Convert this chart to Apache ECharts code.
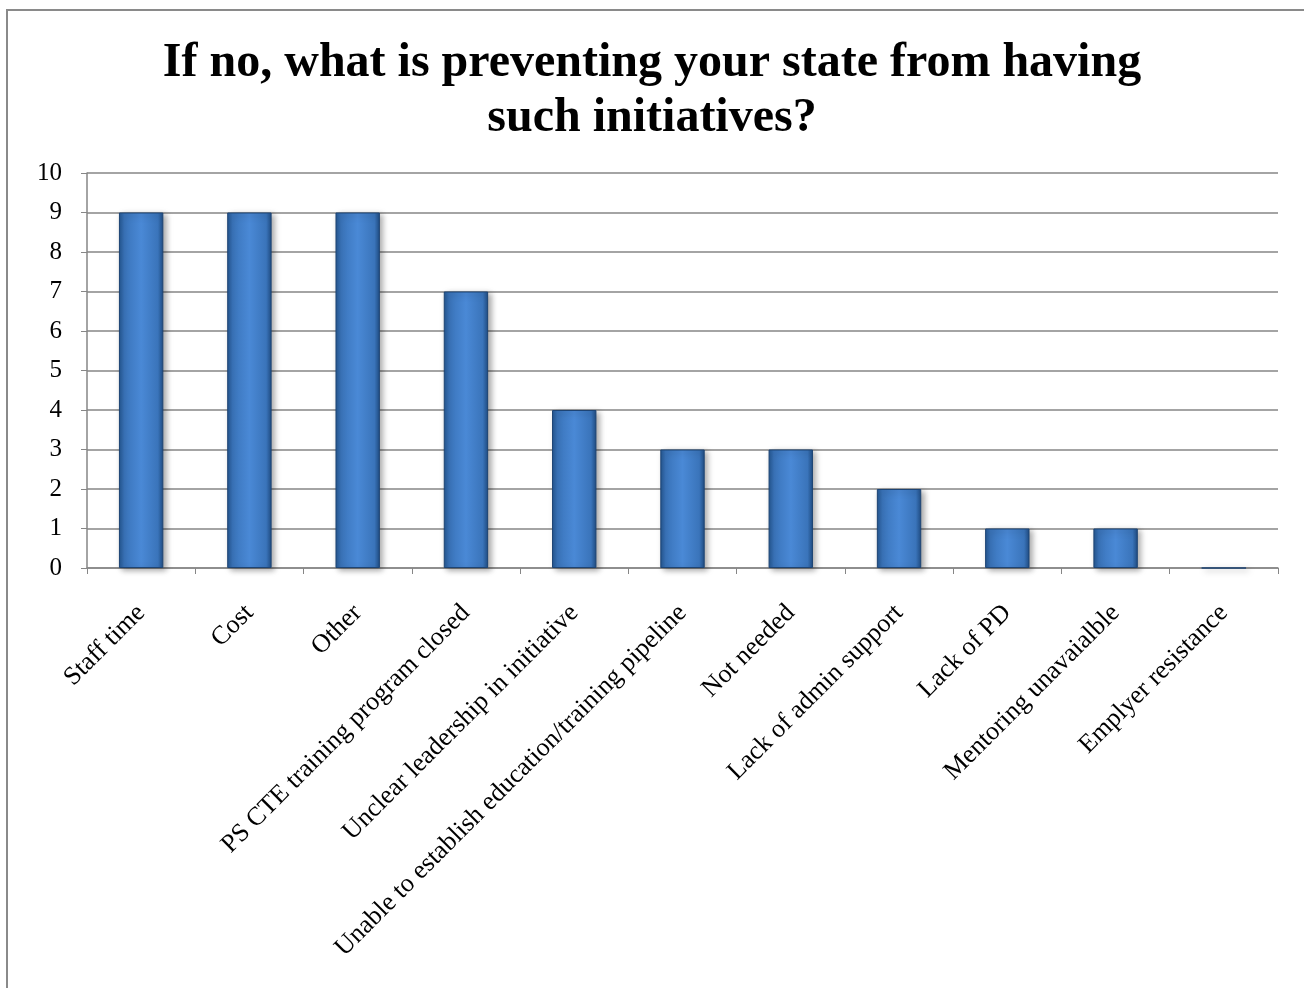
<!DOCTYPE html>
<html>
<head>
<meta charset="utf-8">
<script src="https://cdn.jsdelivr.net/npm/echarts@6/dist/echarts.min.js"></script>
<style>
html,body{margin:0;padding:0;background:#fff;overflow:hidden;}
#frame{position:absolute;left:6px;top:9px;width:1304px;height:988px;border-left:2px solid #8a8a8a;border-top:2px solid #8a8a8a;}
#chart{position:absolute;left:0;top:0;width:1304px;height:988px;}
</style>
</head>
<body>
<div id="frame"></div>
<div id="chart"></div>
<script>
const titleText = "If no, what is preventing your state from having\nsuch initiatives?";
const categories = ["Staff time","Cost","Other","PS CTE training program closed","Unclear leadership in initiative","Unable to establish education/training pipeline","Not needed","Lack of admin support","Lack of PD","Mentoring unavaialble","Emplyer resistance"];
const values = [9,9,9,7,4,3,3,2,1,1,0];
const yTicks = {min:0, max:10, interval:1};

const chart = echarts.init(document.getElementById('chart'));
chart.setOption({
  animation:false,
  title:{
    text:titleText,
    left:'center', top:31,
    textStyle:{fontFamily:'Liberation Serif', fontWeight:'bold', fontSize:48, color:'#000', lineHeight:55}
  },
  grid:{left:87, right:26, top:173, bottom:420, containLabel:false},
  xAxis:{
    type:'category', data:categories,
    axisLine:{lineStyle:{color:'#868686', width:1.5}},
    axisTick:{show:true, length:6, lineStyle:{color:'#868686'}},
    axisLabel:{rotate:45, interval:0, fontFamily:'Liberation Serif', fontSize:26, color:'#000', margin:41}
  },
  yAxis:{
    type:'value', min:yTicks.min, max:yTicks.max, interval:yTicks.interval,
    axisLine:{show:true, lineStyle:{color:'#868686', width:1.5}},
    axisTick:{show:true, length:6, lineStyle:{color:'#868686'}},
    splitLine:{lineStyle:{color:'#868686', width:1.5}},
    axisLabel:{fontFamily:'Liberation Serif', fontSize:25, color:'#000', margin:25}
  },
  series:[{
    type:'bar', data:values, barWidth:'41%',
    itemStyle:{
      color:new echarts.graphic.LinearGradient(0,0,1,0,[
        {offset:0,color:'#23558f'},
        {offset:0.12,color:'#3a74ba'},
        {offset:0.5,color:'#4a89d6'},
        {offset:0.88,color:'#3a74ba'},
        {offset:1,color:'#1f4c82'}
      ]),
      borderColor:'#1d4474', borderWidth:1,
      shadowColor:'rgba(0,0,0,0.35)', shadowBlur:6, shadowOffsetX:3, shadowOffsetY:2
    }
  }]
});
</script>
</body>
</html>
